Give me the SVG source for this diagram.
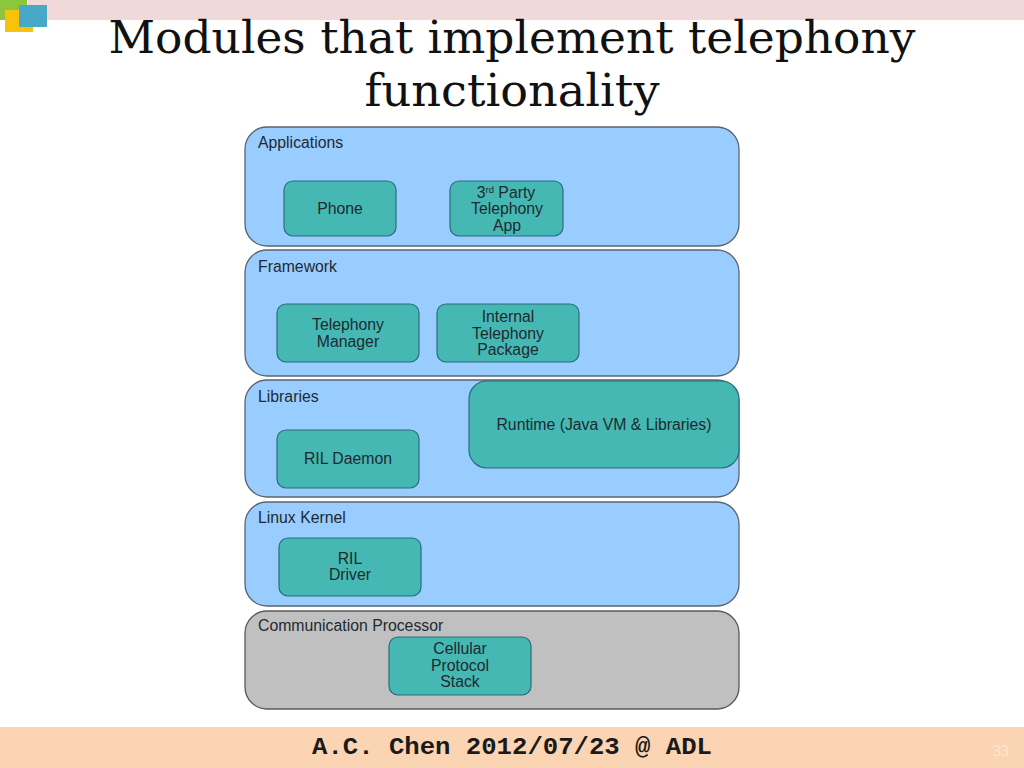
<svg xmlns="http://www.w3.org/2000/svg" width="1024" height="768" viewBox="0 0 1024 768">
<style>
.layer{fill:#99ccff;stroke:#5a6470;stroke-width:1.3}
.cp{fill:#c0c0c0;stroke:#5a5a5a;stroke-width:1.3}
.box{fill:#45b8b3;stroke:#2c6a78;stroke-width:1.2}
.lbl{font-family:"Liberation Sans",Arial,sans-serif;font-size:15.8px;fill:#1e2a30}
.ctr{text-anchor:middle}
.title{font-family:"DejaVu Serif","Liberation Serif",serif;font-size:45px;fill:#111;text-anchor:middle}
</style>
<rect width="1024" height="768" fill="#ffffff"/>
<rect x="28" y="0" width="996" height="20" fill="#f1d9d9"/>
<rect x="0" y="0" width="27" height="20" fill="#8cc63f"/>
<rect x="5" y="10" width="28" height="22" fill="#f9c20a"/>
<rect x="19" y="5" width="28" height="22" fill="#47a8c8"/>
<g id="title">
<text class="title" x="512" y="53" textLength="807" lengthAdjust="spacingAndGlyphs">Modules that implement telephony</text>
<text class="title" x="512" y="106" textLength="295" lengthAdjust="spacingAndGlyphs">functionality</text>
</g>
<g id="applications">
<rect class="layer" x="245" y="127" width="494" height="119" rx="22"/>
<text class="lbl" x="258" y="148">Applications</text>
</g>
<g id="phone">
<rect class="box" x="284" y="181" width="112" height="55" rx="9"/>
<text class="lbl ctr" x="340" y="214">Phone</text>
</g>
<g id="third-party">
<rect class="box" x="450" y="181" width="113" height="55" rx="9"/>
<text class="lbl ctr" x="506" y="198">3<tspan font-size="9.5" dy="-5">rd</tspan><tspan dy="5"> Party</tspan></text>
<text class="lbl ctr" x="507" y="214">Telephony</text>
<text class="lbl ctr" x="507" y="231">App</text>
</g>
<g id="framework">
<rect class="layer" x="245" y="250" width="494" height="126" rx="22"/>
<text class="lbl" x="258" y="272">Framework</text>
</g>
<g id="telephony-manager">
<rect class="box" x="277" y="304" width="142" height="58" rx="9"/>
<text class="lbl ctr" x="348" y="330">Telephony</text>
<text class="lbl ctr" x="348" y="347">Manager</text>
</g>
<g id="internal-telephony">
<rect class="box" x="437" y="304" width="142" height="58" rx="9"/>
<text class="lbl ctr" x="508" y="322">Internal</text>
<text class="lbl ctr" x="508" y="339">Telephony</text>
<text class="lbl ctr" x="508" y="355">Package</text>
</g>
<g id="libraries">
<rect class="layer" x="245" y="380" width="494" height="117" rx="22"/>
<text class="lbl" x="258" y="402">Libraries</text>
</g>
<g id="runtime">
<rect class="box" x="469" y="381" width="270" height="87" rx="18"/>
<text class="lbl ctr" x="604" y="430">Runtime (Java VM &amp; Libraries)</text>
</g>
<g id="ril-daemon">
<rect class="box" x="277" y="430" width="142" height="58" rx="9"/>
<text class="lbl ctr" x="348" y="464">RIL Daemon</text>
</g>
<g id="linux-kernel">
<rect class="layer" x="245" y="502" width="494" height="104" rx="22"/>
<text class="lbl" x="258" y="523">Linux Kernel</text>
</g>
<g id="ril-driver">
<rect class="box" x="279" y="538" width="142" height="58" rx="9"/>
<text class="lbl ctr" x="350" y="564">RIL</text>
<text class="lbl ctr" x="350" y="580">Driver</text>
</g>
<g id="communication-processor">
<rect class="cp" x="245" y="611" width="494" height="98" rx="22"/>
<text class="lbl" x="258" y="631">Communication Processor</text>
</g>
<g id="cellular">
<rect class="box" x="389" y="637" width="142" height="58" rx="9"/>
<text class="lbl ctr" x="460" y="654">Cellular</text>
<text class="lbl ctr" x="460" y="671">Protocol</text>
<text class="lbl ctr" x="460" y="687">Stack</text>
</g>
<g id="connectors"></g>
<rect x="0" y="727" width="1024" height="41" fill="#fbd4b4"/>
<text x="512" y="754" text-anchor="middle" font-family="'Liberation Mono','Courier New',monospace" font-weight="bold" font-size="24" fill="#1a1a1a" textLength="400" lengthAdjust="spacingAndGlyphs">A.C. Chen 2012/07/23 @ ADL</text>
<text x="1001" y="756" text-anchor="middle" font-family="'Liberation Serif',serif" font-size="16" fill="#fde8d8">33</text>
</svg>
